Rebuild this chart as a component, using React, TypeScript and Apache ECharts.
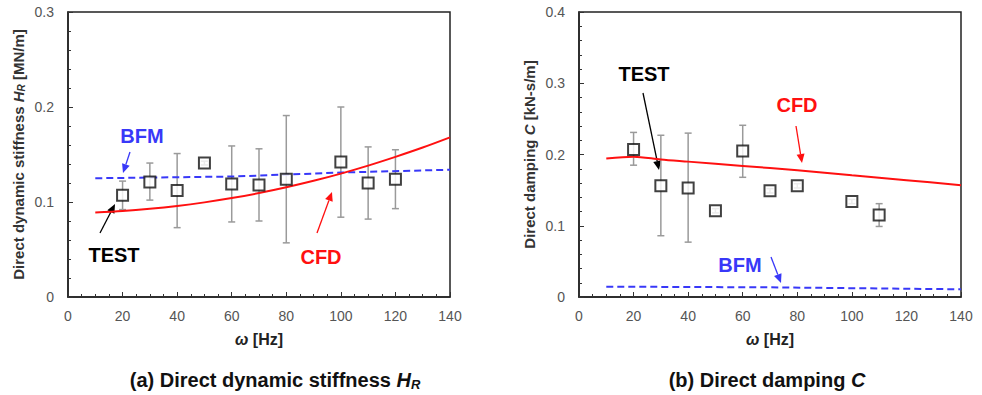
import React, { useEffect, useRef } from "react";
import * as echarts from "echarts";

// ---- (a) Direct dynamic stiffness H_R ----
const testFreqA = [20, 30, 40, 50, 60, 70, 80, 100, 110, 120];
const testValA = [0.107, 0.121, 0.112, 0.141, 0.119, 0.118, 0.124, 0.142, 0.120, 0.124];
const errLowA = [0.092, 0.102, 0.073, 0.139, 0.079, 0.080, 0.057, 0.084, 0.082, 0.093];
const errHighA = [0.122, 0.141, 0.151, 0.143, 0.159, 0.156, 0.191, 0.200, 0.158, 0.155];
const cfdFreqA = [10, 20, 30, 40, 50, 60, 70, 80, 90, 100, 110, 120, 130, 140];
const cfdValA = [0.089, 0.0905, 0.0928, 0.0958, 0.0996, 0.1041, 0.1094, 0.1155, 0.1223, 0.1299, 0.1383, 0.1475, 0.1573, 0.168];
const bfmFreqA = [10, 60, 100, 140];
const bfmValA = [0.125, 0.1268, 0.131, 0.134];

// ---- (b) Direct damping C ----
const testFreqB = [20, 30, 40, 50, 60, 70, 80, 100, 110];
const testValB = [0.207, 0.156, 0.153, 0.121, 0.205, 0.149, 0.156, 0.134, 0.115];
const errLowB = [0.185, 0.086, 0.077, 0.118, 0.168, 0.146, 0.153, 0.131, 0.099];
const errHighB = [0.231, 0.227, 0.230, 0.124, 0.241, 0.152, 0.159, 0.137, 0.131];
const cfdFreqB = [10, 20, 30, 40, 60, 80, 100, 120, 140];
const cfdValB = [0.1945, 0.197, 0.193, 0.190, 0.184, 0.178, 0.171, 0.164, 0.157];
const bfmFreqB = [10, 70, 140];
const bfmValB = [0.0145, 0.0136, 0.0108];

const FONT = "'Liberation Sans', Arial, sans-serif";
const BLUE = "#3838f8";
const RED = "#ff1010";

function zip(xs: number[], ys: number[]) {
  return xs.map((x, i) => [x, ys[i]]);
}

function arrow(x1: number, y1: number, x2: number, y2: number, color: string) {
  const dx = x2 - x1, dy = y2 - y1;
  const L = Math.hypot(dx, dy);
  const ux = dx / L, uy = dy / L;
  const hl = 9, hw = 4;
  const bx = x2 - ux * hl, by = y2 - uy * hl;
  return [
    { type: "line", shape: { x1, y1, x2: bx, y2: by }, style: { stroke: color, lineWidth: 1.3 } },
    {
      type: "polygon",
      shape: { points: [[x2, y2], [bx - uy * hw, by + ux * hw], [bx + uy * hw, by - ux * hw]] },
      style: { fill: color },
    },
  ];
}

function label(text: string, x: number, y: number, color: string) {
  return {
    type: "text",
    x,
    y,
    style: {
      text,
      fill: color,
      fontSize: 20,
      fontWeight: "bold",
      fontFamily: FONT,
      align: "center",
      verticalAlign: "middle",
    },
  };
}

function xAxisDef(gridIndex: number) {
  return {
    type: "value",
    gridIndex,
    min: 0,
    max: 140,
    interval: 20,
    name: "{i|ω} [Hz]",
    nameLocation: "middle",
    nameGap: 34,
    nameTextStyle: {
      fontSize: 16,
      fontWeight: "bold",
      color: "#222",
      fontFamily: FONT,
      rich: { i: { fontStyle: "italic", fontWeight: "bold", fontSize: 16, color: "#222", fontFamily: FONT } },
    },
    axisLine: { show: true, lineStyle: { color: "#222", width: 1.5 } },
    axisTick: { show: true, inside: true, length: 5, lineStyle: { color: "#333" } },
    minorTick: { show: true, splitNumber: 4, length: 3, lineStyle: { color: "#333" } },
    axisLabel: { color: "#555", fontSize: 14, fontFamily: FONT, margin: 12 },
    splitLine: { show: false },
  };
}

function yAxisDef(gridIndex: number, max: number, name: string, rich: any, size: number) {
  return {
    type: "value",
    gridIndex,
    min: 0,
    max,
    interval: 0.1,
    name,
    nameLocation: "middle",
    nameGap: 42,
    nameRotate: 90,
    nameTextStyle: {
      fontSize: size,
      fontWeight: "bold",
      color: "#333",
      fontFamily: FONT,
      rich,
    },
    axisLine: { show: true, lineStyle: { color: "#222", width: 1.5 } },
    axisTick: { show: true, inside: true, length: 5, lineStyle: { color: "#333" } },
    minorTick: { show: true, splitNumber: 5, length: 3, lineStyle: { color: "#333" } },
    axisLabel: { color: "#555", fontSize: 14, fontFamily: FONT, margin: 14 },
    splitLine: { show: false },
  };
}

function errorSeries(xIdx: number, xs: number[], lo: number[], hi: number[]) {
  return {
    type: "custom",
    xAxisIndex: xIdx,
    yAxisIndex: xIdx,
    z: 2,
    data: xs.map((x, i) => [x, lo[i], hi[i]]),
    renderItem: (params: any, api: any) => {
      const x = api.value(0);
      const p1 = api.coord([x, api.value(1)]);
      const p2 = api.coord([x, api.value(2)]);
      const cw = 3.5;
      const st = { stroke: "#9a9a9a", lineWidth: 1.5 };
      return {
        type: "group",
        children: [
          { type: "line", shape: { x1: p1[0], y1: p1[1], x2: p2[0], y2: p2[1] }, style: st },
          { type: "line", shape: { x1: p1[0] - cw, y1: p1[1], x2: p1[0] + cw, y2: p1[1] }, style: st },
          { type: "line", shape: { x1: p2[0] - cw, y1: p2[1], x2: p2[0] + cw, y2: p2[1] }, style: st },
        ],
      };
    },
  };
}

function testSeries(idx: number, xs: number[], ys: number[]) {
  return {
    type: "scatter",
    xAxisIndex: idx,
    yAxisIndex: idx,
    z: 5,
    symbol: "rect",
    symbolSize: 11,
    itemStyle: { color: "#ffffff", borderColor: "#111", borderWidth: 2 },
    data: zip(xs, ys),
  };
}

function lineSeries(idx: number, xs: number[], ys: number[], color: string, dashed: boolean) {
  return {
    type: "line",
    xAxisIndex: idx,
    yAxisIndex: idx,
    z: 3,
    smooth: dashed ? false : 0.3,
    symbol: "none",
    lineStyle: { color, width: 2, type: dashed ? [7, 4] : "solid" },
    data: zip(xs, ys),
  };
}

export default function App() {
  const ref = useRef<HTMLDivElement>(null);

  useEffect(() => {
    document.body.style.margin = "0";
    if (!ref.current) return;
    const chart = echarts.init(ref.current, undefined, { renderer: "svg" });
    const mkRich = (size: number, sub: number, pad: number) => ({
      i: { fontStyle: "italic", fontWeight: "bold", fontSize: size, color: "#333", fontFamily: FONT },
      s: { fontStyle: "italic", fontWeight: "bold", fontSize: sub, color: "#333", fontFamily: FONT, padding: [pad, 0, 0, 0] },
    });
    const capRich = {
      i: { fontStyle: "italic", fontWeight: "bold", fontSize: 20, color: "#111", fontFamily: FONT },
      s: { fontStyle: "italic", fontWeight: "bold", fontSize: 13, color: "#111", fontFamily: FONT, padding: [8, 0, 0, 0] },
    };
    const option: any = {
      animation: false,
      backgroundColor: "#ffffff",
      grid: [
        { left: 68, top: 12, width: 382, height: 285, show: true, borderColor: "#222", borderWidth: 1.5, backgroundColor: "transparent" },
        { left: 579, top: 12, width: 382, height: 285, show: true, borderColor: "#222", borderWidth: 1.5, backgroundColor: "transparent" },
      ],
      xAxis: [xAxisDef(0), xAxisDef(1)],
      yAxis: [
        yAxisDef(0, 0.3, "Direct dynamic stiffness {i|H}{s|R} [MN/m]", mkRich(15, 10, 6), 15),
        yAxisDef(1, 0.4, "Direct damping {i|C} [kN-s/m]", mkRich(15, 10, 6), 15),
      ],
      series: [
        lineSeries(0, bfmFreqA, bfmValA, BLUE, true),
        lineSeries(0, cfdFreqA, cfdValA, RED, false),
        errorSeries(0, testFreqA, errLowA, errHighA),
        testSeries(0, testFreqA, testValA),
        lineSeries(1, bfmFreqB, bfmValB, BLUE, true),
        lineSeries(1, cfdFreqB, cfdValB, RED, false),
        errorSeries(1, testFreqB, errLowB, errHighB),
        testSeries(1, testFreqB, testValB),
      ],
      graphic: [
        label("BFM", 142, 136, BLUE),
        ...arrow(130, 152, 123, 173, BLUE),
        label("TEST", 114, 255, "#000"),
        ...arrow(100, 233, 115, 204, "#000"),
        label("CFD", 321, 257, RED),
        ...arrow(317, 233, 332, 192, RED),
        label("TEST", 644, 74, "#000"),
        ...arrow(643, 93, 659, 170, "#000"),
        label("CFD", 797, 105, RED),
        ...arrow(796, 126, 802, 163, RED),
        label("BFM", 740, 265, BLUE),
        ...arrow(771, 257, 781, 283, BLUE),
        {
          type: "text",
          x: 275,
          y: 380,
          style: {
            text: "(a) Direct dynamic stiffness {i|H}{s|R}",
            fill: "#111",
            fontSize: 20,
            fontWeight: "bold",
            fontFamily: FONT,
            align: "center",
            verticalAlign: "middle",
            rich: capRich,
          },
        },
        {
          type: "text",
          x: 767,
          y: 380,
          style: {
            text: "(b) Direct damping {i|C}",
            fill: "#111",
            fontSize: 20,
            fontWeight: "bold",
            fontFamily: FONT,
            align: "center",
            verticalAlign: "middle",
            rich: capRich,
          },
        },
      ],
    };
    chart.setOption(option);
    return () => chart.dispose();
  }, []);

  return <div ref={ref} style={{ width: 982, height: 395 }} />;
}
